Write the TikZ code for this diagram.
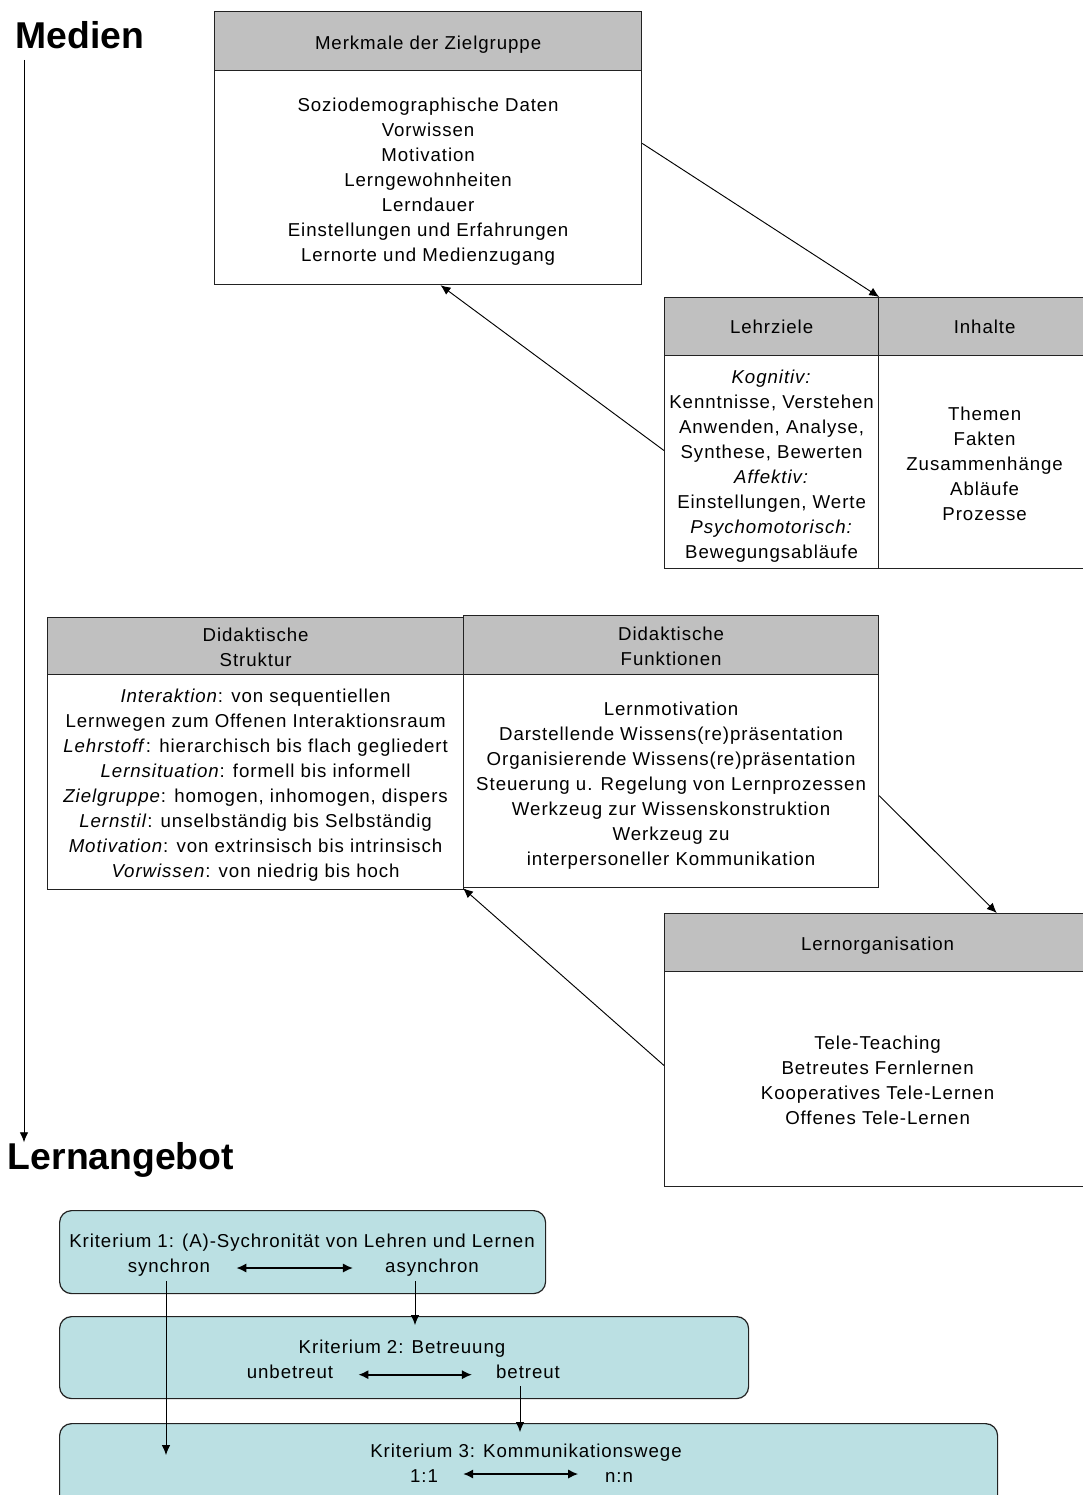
\documentclass[tikz,border=0pt]{standalone}
\usepackage{fontspec}
\setmainfont{Liberation Sans}[LetterSpace=5]
\newfontfamily\titlefont{Liberation Sans}
\usetikzlibrary{arrows.meta,calc}
\definecolor{headgray}{HTML}{C0C0C0}
\definecolor{kritfill}{HTML}{BBE0E3}
\definecolor{edge}{HTML}{222222}
\begin{document}
\begin{tikzpicture}[x=0.75pt,y=-0.75pt,
  every node/.style={font=\fontsize{14}{18.75}\selectfont},
  head/.style={draw=edge, line width=0.9pt, fill=headgray, inner sep=0pt, anchor=north west},
  body/.style={draw=edge, line width=0.9pt, fill=white, inner sep=0pt, anchor=north west},
  txt/.style={inner sep=0pt, align=center},
  krit/.style={draw=edge, line width=0.9pt, fill=kritfill, rounded corners=9pt, inner sep=0pt, anchor=north west},
  lbl/.style={inner sep=0pt, anchor=base},
  title/.style={font=\titlefont\bfseries\fontsize{28}{30}\selectfont, inner sep=0pt},
  conn/.style={line width=0.7pt, -{Latex[length=7.5pt,width=6.5pt]}},
  dbl/.style={line width=1.3pt, {Latex[length=7.5pt,width=7pt]}-{Latex[length=7.5pt,width=7pt]}},
]
\useasboundingbox (0,0) rectangle (1082,1495);

% headings
\node[title] (medien) at (80,35) {Medien};
\node[title] (lernangebot) at (121,1160) {Lernangebot};

% target group
\node[head, minimum width=320.25pt, minimum height=44.25pt] (merkhead) at (214,11) {};
\node[body, minimum width=320.25pt, minimum height=160.5pt] (merkbody) at (214,70) {};
\node[txt] (merkheadtxt) at ([yshift=-3pt]merkhead.center) {Merkmale der Zielgruppe};
\node[txt] (merkbodytxt) at ([yshift=-3pt]merkbody.center)
  {Soziodemographische Daten\\Vorwissen\\Motivation\\Lerngewohnheiten\\Lerndauer\\Einstellungen und Erfahrungen\\Lernorte und Medienzugang};

% goals and contents
\node[head, minimum width=160.5pt, minimum height=43.5pt] (lehrhead) at (664,297) {};
\node[body, minimum width=160.5pt, minimum height=159.75pt] (lehrbody) at (664,355) {};
\node[head, minimum width=159pt, minimum height=43.5pt] (inhhead) at (878,297) {};
\node[body, minimum width=159pt, minimum height=159.75pt] (inhbody) at (878,355) {};
\node[txt] (lehrheadtxt) at (lehrhead.center) {Lehrziele};
\node[txt] (lehrbodytxt) at ([yshift=-2.8pt]lehrbody.center)
  {\textit{Kognitiv:}\\Kenntnisse, Verstehen\\Anwenden, Analyse,\\Synthese, Bewerten\\\textit{Affektiv:}\\Einstellungen, Werte\\\textit{Psychomotorisch:}\\Bewegungsabläufe};
\node[txt] (inhheadtxt) at (inhhead.center) {Inhalte};
\node[txt] (inhbodytxt) at ([yshift=-1.5pt]inhbody.center)
  {Themen\\Fakten\\Zusammenhänge\\Abläufe\\Prozesse};

% didactic structure and functions
\node[head, minimum width=312pt, minimum height=42.75pt] (strukhead) at (47,617) {};
\node[body, minimum width=312pt, minimum height=161.25pt] (strukbody) at (47,674) {};
\node[head, minimum width=311.25pt, minimum height=44.25pt] (funkhead) at (463,615) {};
\node[body, minimum width=311.25pt, minimum height=159.75pt] (funkbody) at (463,674) {};
\node[txt] (strukheadtxt) at ([yshift=-0.75pt]strukhead.center) {Didaktische\\Struktur};
\node[txt] (strukbodytxt) at ([yshift=-2.6pt]strukbody.center)
  {\textit{Interaktion}: von sequentiellen\\Lernwegen zum Offenen Interaktionsraum\\\textit{Lehrstoff}: hierarchisch bis flach gegliedert\\\textit{Lernsituation}: formell bis informell\\\textit{Zielgruppe}: homogen, inhomogen, dispers\\\textit{Lernstil}: unselbständig bis Selbständig\\\textit{Motivation}: von extrinsisch bis intrinsisch\\\textit{Vorwissen}: von niedrig bis hoch};
\node[txt] (funkheadtxt) at ([yshift=-0.75pt]funkhead.center) {Didaktische\\Funktionen};
\node[txt] (funkbodytxt) at ([yshift=-3.6pt]funkbody.center)
  {Lernmotivation\\Darstellende Wissens(re)präsentation\\Organisierende Wissens(re)präsentation\\Steuerung u. Regelung von Lernprozessen\\Werkzeug zur Wissenskonstruktion\\Werkzeug zu\\interpersoneller Kommunikation};

% organisation
\node[head, minimum width=319.5pt, minimum height=43.5pt] (orghead) at (664,913) {};
\node[body, minimum width=319.5pt, minimum height=161.25pt] (orgbody) at (664,971) {};
\node[txt] (orgheadtxt) at ([yshift=-2.2pt]orghead.center) {Lernorganisation};
\node[txt] (orgbodytxt) at ([yshift=-0.75pt]orgbody.center)
  {Tele-Teaching\\Betreutes Fernlernen\\Kooperatives Tele-Lernen\\Offenes Tele-Lernen};

% connectors between the boxes
\draw[conn] ($(merkbody.north east)!0.341!(merkbody.south east)$) -- (lehrhead.north east);
\draw[conn] ($(lehrbody.north west)!0.446!(lehrbody.south west)$) -- ($(merkbody.south west)!0.529!(merkbody.south east)$);
\draw[conn] ($(funkbody.north east)!0.568!(funkbody.south east)$) -- ($(orghead.north west)!0.779!(orghead.north east)$);
\draw[conn] ($(orgbody.north west)!0.437!(orgbody.south west)$) -- (funkbody.south west);

% media axis
\coordinate (mstart) at (24,60);
\draw[conn] (mstart) -- (mstart |- lernangebot.north);

% criteria
\node[krit, minimum width=364.5pt, minimum height=62.25pt] (k1) at (59,1210) {};
\node[krit, minimum width=516.75pt, minimum height=61.5pt] (k2) at (59,1316) {};
\node[krit, minimum width=703.5pt, minimum height=65.25pt] (k3) at (59,1423) {};

\node[lbl] (k1t) at (302,1247) {Kriterium 1: (A)-Sychronität von Lehren und Lernen};
\node[lbl] (k1a) at (169,1272) {synchron};
\node[lbl] (k1b) at (432,1272) {asynchron};
\node[lbl] (k2t) at (402,1353) {Kriterium 2: Betreuung};
\node[lbl] (k2a) at (290,1378) {unbetreut};
\node[lbl] (k2b) at (528,1378) {betreut};
\node[lbl] (k3t) at (526,1457) {Kriterium 3: Kommunikationswege};
\node[lbl] (k3a) at (424,1482) {1:1};
\node[lbl] (k3b) at (619,1482) {n:n};

\draw[dbl, shorten <=19.5pt, shorten >=24pt] ([yshift=3pt]k1a.base east) -- ([yshift=3pt]k1b.base west);
\draw[dbl, shorten <=18.75pt, shorten >=18pt] ([yshift=2.5pt]k2a.base east) -- ([yshift=2.5pt]k2b.base west);
\draw[dbl, shorten <=18.75pt, shorten >=20pt] ([yshift=6pt]k3a.base east) -- ([yshift=6pt]k3b.base west);

\coordinate (k3in) at (166,1455);
\coordinate (k2in) at (415,1325);
\coordinate (k3in2) at (520,1432);
\draw[conn, shorten <=4pt] (k1a.south -| k3in) -- (k3in);
\draw[conn, shorten <=4pt] (k1b.south -| k2in) -- (k2in);
\draw[conn, shorten <=6pt] (k2b.south -| k3in2) -- (k3in2);
\end{tikzpicture}
\end{document}
